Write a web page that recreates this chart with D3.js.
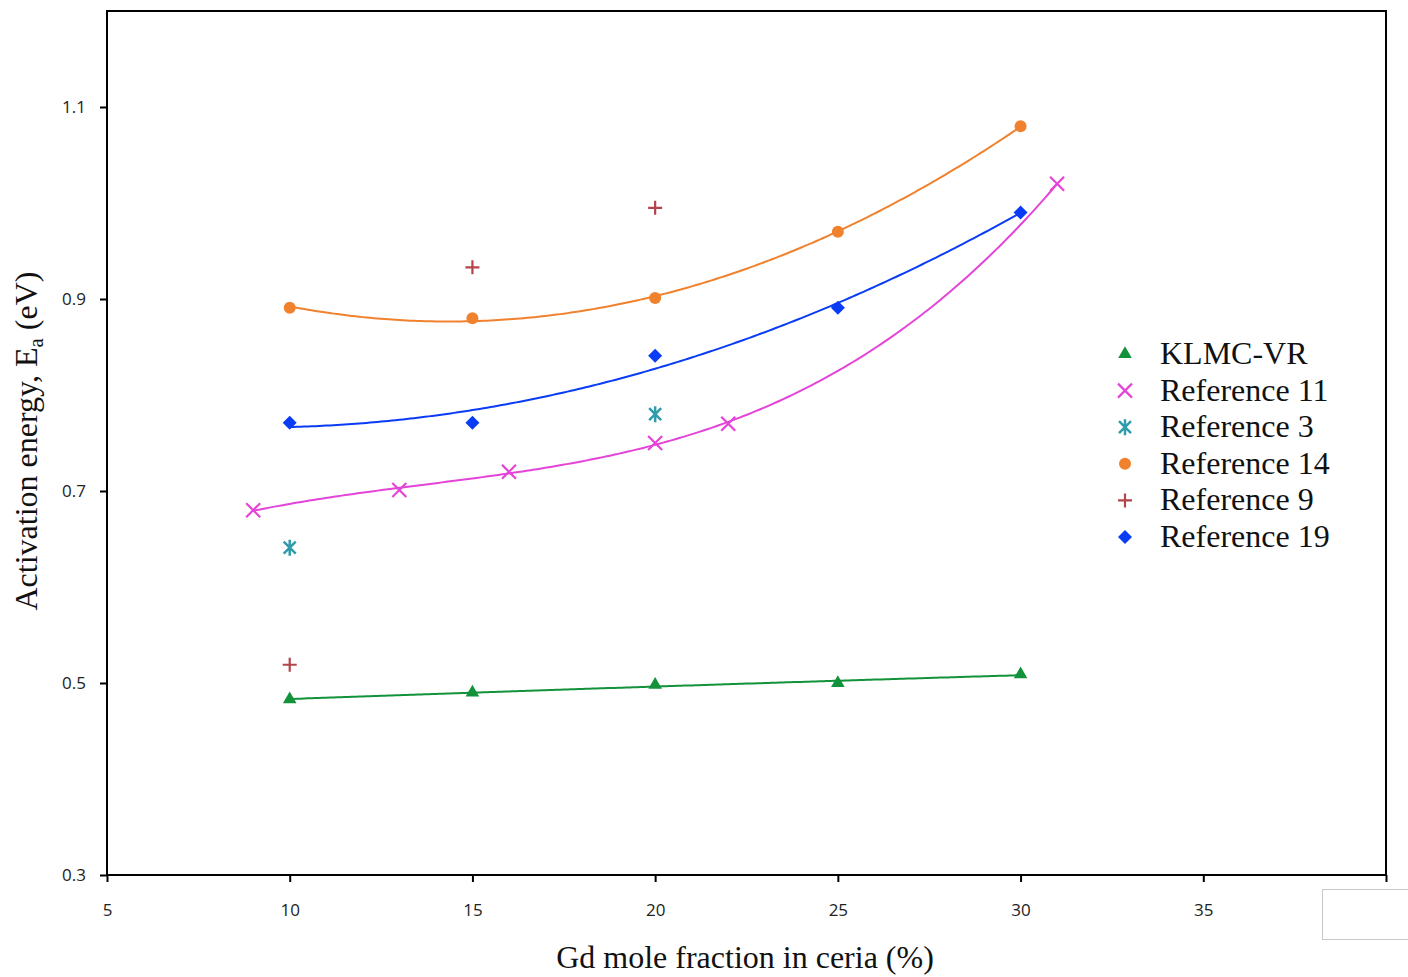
<!DOCTYPE html>
<html>
<head>
<meta charset="utf-8">
<script src="https://cdn.jsdelivr.net/npm/d3@7"></script>
<style>
  body { margin: 0; background: #fff; }
  svg { display: block; }
</style>
</head>
<body>
<script>
// values
var xTicks = [5, 10, 15, 20, 25, 30, 35, 40];
var yTicks = [0.3, 0.5, 0.7, 0.9, 1.1];

var klmcX = [10, 15, 20, 25, 30];
var klmcY = [0.483, 0.490, 0.498, 0.500, 0.509];

var ref11X = [9, 13, 16, 20, 22, 31];
var ref11Y = [0.680, 0.701, 0.720, 0.750, 0.770, 1.020];

var ref3X = [10, 20];
var ref3Y = [0.641, 0.780];

var ref14X = [10, 15, 20, 25, 30];
var ref14Y = [0.891, 0.880, 0.901, 0.970, 1.080];

var ref9X = [10, 15, 20];
var ref9Y = [0.519, 0.933, 0.995];

var ref19X = [10, 15, 20, 25, 30];
var ref19Y = [0.771, 0.771, 0.841, 0.891, 0.990];

var series = [
  {name: "KLMC-VR", xs: klmcX, ys: klmcY, color: "#12923a", shape: "tri", fit: 2},
  {name: "Reference 11", xs: ref11X, ys: ref11Y, color: "#e544d8", shape: "x", fit: 3},
  {name: "Reference 3", xs: ref3X, ys: ref3Y, color: "#2f9bab", shape: "star", fit: 0},
  {name: "Reference 14", xs: ref14X, ys: ref14Y, color: "#f0822e", shape: "circle", fit: 2},
  {name: "Reference 9", xs: ref9X, ys: ref9Y, color: "#b3454a", shape: "plus", fit: 0},
  {name: "Reference 19", xs: ref19X, ys: ref19Y, color: "#0a3cf5", shape: "diamond", fit: 2}
];

var W = 1408, H = 977;
var pL = 107, pR = 1386, pT = 11, pB = 875;

var svg = d3.select("body").append("svg").attr("width", W).attr("height", H);

var x = d3.scaleLinear().domain([5, 40]).range([pL, pR]);
var y = d3.scaleLinear().domain([0.3, 1.2]).range([pB, pT]);

// least squares polynomial (trendline like the spreadsheet one)
function polyfit(xs, ys, n) {
  var m = n + 1, A = [], b = [];
  for (var i = 0; i < m; i++) {
    A.push([]);
    for (var j = 0; j < m; j++) A[i].push(d3.sum(xs, function(v) { return Math.pow(v, i + j); }));
    b.push(d3.sum(xs, function(v, k) { return ys[k] * Math.pow(v, i); }));
  }
  for (var c = 0; c < m; c++) {
    var p = c;
    for (var r = c + 1; r < m; r++) if (Math.abs(A[r][c]) > Math.abs(A[p][c])) p = r;
    var t = A[c]; A[c] = A[p]; A[p] = t; t = b[c]; b[c] = b[p]; b[p] = t;
    for (var r2 = c + 1; r2 < m; r2++) {
      var f = A[r2][c] / A[c][c];
      for (var k = c; k < m; k++) A[r2][k] -= f * A[c][k];
      b[r2] -= f * b[c];
    }
  }
  var coef = new Array(m);
  for (var r3 = m - 1; r3 >= 0; r3--) {
    var s = b[r3];
    for (var k2 = r3 + 1; k2 < m; k2++) s -= A[r3][k2] * coef[k2];
    coef[r3] = s / A[r3][r3];
  }
  return function(v) { return d3.sum(coef, function(cf, i) { return cf * Math.pow(v, i); }); };
}

var line = d3.line().x(function(d) { return x(d[0]); }).y(function(d) { return y(d[1]); });

series.forEach(function(s) {
  if (!s.fit) return;
  var f = polyfit(s.xs, s.ys, s.fit);
  var x0 = d3.min(s.xs), x1 = d3.max(s.xs);
  var pts = d3.range(0, 201).map(function(i) { var v = x0 + (x1 - x0) * i / 200; return [v, f(v)]; });
  svg.append("path").attr("d", line(pts)).attr("fill", "none")
    .attr("stroke", s.color).attr("stroke-width", 2);
});

function marker(g, shape, color) {
  if (shape === "tri") {
    g.append("path").attr("d", d3.symbol(d3.symbolTriangle, 80)()).attr("fill", color);
  } else if (shape === "circle") {
    g.append("circle").attr("r", 6).attr("fill", color);
  } else if (shape === "diamond") {
    g.append("path").attr("d", "M0,-7L7,0L0,7L-7,0Z").attr("fill", color);
  } else if (shape === "x") {
    g.append("path").attr("d", "M-7,-7L7,7M-7,7L7,-7").attr("stroke", color).attr("stroke-width", 2.2);
  } else if (shape === "star") {
    g.append("path").attr("d", "M-6,-6L6,6M-6,6L6,-6M0,-8L0,8").attr("stroke", color).attr("stroke-width", 2.5);
  } else if (shape === "plus") {
    g.append("path").attr("d", "M-7,0L7,0M0,-7L0,7").attr("stroke", color).attr("stroke-width", 2.2);
  }
}

series.forEach(function(s) {
  s.xs.forEach(function(v, i) {
    var g = svg.append("g").attr("transform", "translate(" + x(v) + "," + y(s.ys[i]) + ")");
    marker(g, s.shape, s.color);
  });
});

// frame
svg.append("rect").attr("x", pL).attr("y", pT).attr("width", pR - pL).attr("height", pB - pT)
  .attr("fill", "none").attr("stroke", "#000").attr("stroke-width", 2);

var xAxis = svg.append("g").attr("transform", "translate(0," + pB + ")")
  .call(d3.axisBottom(x).tickValues(xTicks).tickSize(7).tickPadding(22).tickFormat(d3.format("d")));
var yAxis = svg.append("g").attr("transform", "translate(" + pL + ",0)")
  .call(d3.axisLeft(y).tickValues(yTicks).tickSize(7).tickPadding(14).tickFormat(d3.format(".1f")));
[xAxis, yAxis].forEach(function(a) {
  a.select(".domain").remove();
  a.selectAll("line").attr("stroke", "#000").attr("stroke-width", 2);
  a.selectAll("text").attr("font-family", "Open Sans, sans-serif").attr("font-size", 17).attr("fill", "#222");
});

svg.append("text").attr("x", 745).attr("y", 968).attr("text-anchor", "middle")
  .attr("font-family", "Liberation Serif, serif").attr("font-size", 32).attr("fill", "#111")
  .text("Gd mole fraction in ceria (%)");

var yt = svg.append("text").attr("transform", "translate(37,441) rotate(-90)").attr("text-anchor", "middle")
  .attr("font-family", "Liberation Serif, serif").attr("font-size", 32).attr("fill", "#111");
yt.append("tspan").text("Activation energy, E");
yt.append("tspan").attr("font-size", 21).attr("dy", 6).text("a");
yt.append("tspan").attr("dy", -6).text(" (eV)");

// legend
var leg = svg.append("g");
series.forEach(function(s, i) {
  var ly = 354 + i * 36.6;
  var g = leg.append("g").attr("transform", "translate(1125," + ly + ")");
  marker(g, s.shape, s.color);
  leg.append("text").attr("x", 1160).attr("y", ly + 10)
    .attr("font-family", "Liberation Serif, serif").attr("font-size", 32).attr("fill", "#111")
    .text(s.name);
});

// small empty box at lower right
svg.append("rect").attr("x", 1322.5).attr("y", 889.5).attr("width", 100).attr("height", 50)
  .attr("fill", "#fff").attr("stroke", "#c8c8c8").attr("stroke-width", 1);
</script>
</body>
</html>
